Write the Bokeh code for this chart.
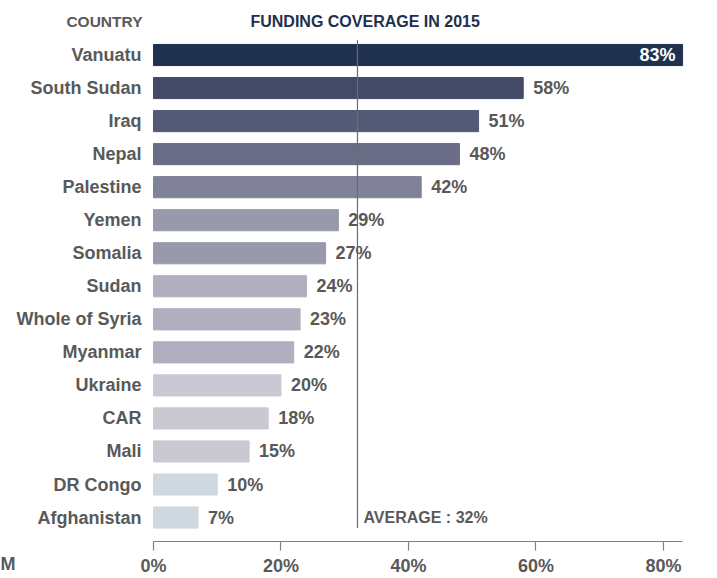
from bokeh.plotting import figure
from bokeh.models import (ColumnDataSource, Range1d, FixedTicker, LabelSet, Label)
from bokeh.core.properties import value
from bokeh.embed import file_html
from bokeh.resources import INLINE

countries = ["Vanuatu", "South Sudan", "Iraq", "Nepal", "Palestine", "Yemen",
             "Somalia", "Sudan", "Whole of Syria", "Myanmar", "Ukraine", "CAR",
             "Mali", "DR Congo", "Afghanistan"]
coverage = [83, 58, 51, 48, 42, 29, 27, 24, 23, 22, 20, 18, 15, 10, 7]
bar_colors = ["#203150", "#434a67", "#535a76", "#6b6d86", "#80829a", "#9899ab",
              "#9899ab", "#b0afbf", "#b0afbf", "#b0afbf", "#c9c9d3", "#c9c9d3",
              "#c9c9d3", "#ced8de", "#ced8de"]
average = 32
x_ticks = [0, 20, 40, 60, 80]
x_tick_labels = ["0%", "20%", "40%", "60%", "80%"]

FONT = "Liberation Sans"
GREY = "#595959"
NAVY = "#1f2f4f"

n = len(countries)
idx = list(range(n))
top_val = max(coverage)
src = ColumnDataSource(dict(
    y=idx,
    v=coverage,
    color=bar_colors,
    label=[f"{v}%" for v in coverage],
    lcolor=["white" if v == top_val else GREY for v in coverage],
    lalign=["right" if v == top_val else "left" for v in coverage],
    loff=[-7 if v == top_val else 10 for v in coverage],
))

# the frame fills the canvas; axes are pinned inside it with fixed_location
p = figure(width=717, height=578, output_backend="svg", toolbar_location=None,
           x_range=Range1d(-24.0, 88.48), y_range=Range1d(n + 0.845, -1.65),
           min_border=0)
p.outline_line_color = None
p.xgrid.visible = False
p.ygrid.visible = False
p.background_fill_color = "white"
p.border_fill_color = "white"

p.hbar(y="y", left=0, right="v", height=0.64, color="color", source=src)

# average line
p.segment(x0=[average], x1=[average], y0=[idx[0] - 0.45], y1=[idx[-1] + 0.32],
          line_color="#6b6b6b", line_width=1.2)

labels = LabelSet(x="v", y="y", text="label", source=src, x_offset="loff",
                  text_align="lalign", text_baseline="middle",
                  text_color="lcolor", text_font=value(FONT), text_font_style="bold",
                  text_font_size="18px")
p.add_layout(labels)

p.add_layout(Label(x=average, y=idx[-1], x_offset=6, text=f"AVERAGE : {average}%",
                   text_font=FONT, text_font_style="bold", text_font_size="16px",
                   text_color=GREY, text_baseline="middle"))

# headers
p.add_layout(Label(x=0, y=-1.0, x_offset=-11, text="COUNTRY", text_align="right",
                   text_baseline="middle", text_font=FONT, text_font_style="bold",
                   text_font_size="15.5px", text_color=GREY))
p.add_layout(Label(x=0, y=-1.0, x_offset=97, text="FUNDING COVERAGE IN 2015",
                   text_align="left", text_baseline="middle", text_font=FONT,
                   text_font_style="bold", text_font_size="16px", text_color=NAVY))
# fragment at bottom-left
p.add_layout(Label(x=0, y=n + 0.4, x_offset=-153, text="M",
                   text_align="left", text_baseline="middle", text_font=FONT,
                   text_font_style="bold", text_font_size="18px", text_color=GREY))

# y axis (categories), pinned at x = 0
ya = p.yaxis[0]
ya.fixed_location = 0
ya.ticker = FixedTicker(ticks=idx)
ya.major_label_overrides = {i: c for i, c in zip(idx, countries)}
ya.axis_line_color = None
ya.major_tick_line_color = None
ya.major_tick_out = 0
ya.major_tick_in = 0
ya.minor_tick_line_color = None
ya.major_label_standoff = 12
ya.major_label_text_font = FONT
ya.major_label_text_font_style = "bold"
ya.major_label_text_font_size = "18px"
ya.major_label_text_color = GREY

# x axis, pinned just below the last bar
xa = p.xaxis[0]
xa.fixed_location = n - 0.26
xa.bounds = (0, top_val)
xa.ticker = FixedTicker(ticks=x_ticks)
xa.major_label_overrides = {t: l for t, l in zip(x_ticks, x_tick_labels)}
xa.axis_line_color = "#7f7f7f"
xa.axis_line_width = 1.2
xa.major_tick_line_color = "#7f7f7f"
xa.major_tick_line_width = 1.2
xa.major_tick_in = 0
xa.major_tick_out = 9
xa.minor_tick_line_color = None
xa.major_label_standoff = 5
xa.major_label_text_font = FONT
xa.major_label_text_font_style = "bold"
xa.major_label_text_font_size = "18px"
xa.major_label_text_color = GREY

open("out.html", "w").write(file_html(p, INLINE))
